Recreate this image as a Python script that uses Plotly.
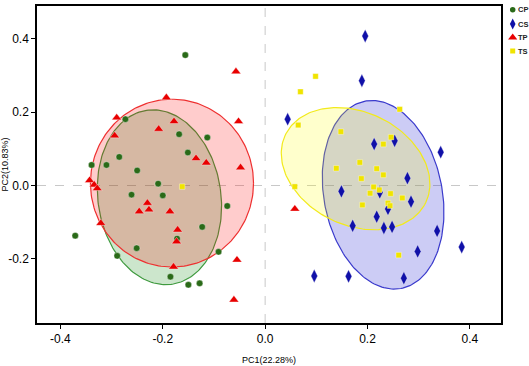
import numpy as np
import plotly.graph_objects as go

# ---- data (PC1, PC2) ----
cp_x = [-0.156, -0.273, -0.168, -0.113, -0.151, -0.285, -0.339, -0.310, -0.250, -0.209, -0.261,
        -0.200, -0.074, -0.123, -0.172, -0.371, -0.251, -0.091, -0.289, -0.185, -0.150, -0.128]
cp_y = [0.356, 0.181, 0.140, 0.131, 0.090, 0.078, 0.056, 0.056, 0.041, 0.005, -0.025,
        -0.027, -0.056, -0.113, -0.145, -0.137, -0.171, -0.181, -0.192, -0.249, -0.271, -0.267]

cs_x = [0.1955, 0.189, 0.044, 0.213, 0.253, 0.343, 0.278, 0.149, 0.224, 0.285, 0.240,
        0.218, 0.171, 0.232, 0.248, 0.336, 0.384, 0.298, 0.096, 0.163, 0.271]
cs_y = [0.408, 0.286, 0.181, 0.113, 0.122, 0.091, 0.020, -0.016, -0.019, -0.044, -0.064,
        -0.085, -0.110, -0.116, -0.113, -0.124, -0.168, -0.180, -0.247, -0.248, -0.253]

tp_x = [-0.057, -0.193, -0.290, -0.178, -0.208, -0.052, -0.294, -0.135, -0.115, -0.048, -0.343,
        -0.334, -0.328, -0.230, -0.246, -0.227, -0.186, -0.321, -0.171, -0.173, -0.055, -0.179,
        -0.061, 0.058]
tp_y = [0.311, 0.240, 0.185, 0.175, 0.154, 0.175, 0.136, 0.074, 0.062, 0.049, 0.014,
        0.002, -0.008, -0.048, -0.071, -0.066, -0.071, -0.103, -0.121, -0.153, -0.203, -0.222,
        -0.312, -0.064]

ts_x = [-0.162, 0.0985, 0.069, 0.0646, 0.263, 0.148, 0.246, 0.231, 0.139, 0.185, 0.218, 0.231,
        0.188, 0.058, 0.212, 0.223, 0.205, 0.245, 0.268, 0.190, 0.240, 0.244, 0.261]
ts_y = [-0.003, 0.298, 0.256, 0.165, 0.208, 0.147, 0.132, 0.113, 0.047, 0.063, 0.046, 0.029,
        0.019, -0.003, -0.004, -0.012, -0.021, -0.022, -0.034, -0.053, -0.048, -0.055, -0.190]

# ---- confidence ellipse parameters (centre + two conjugate semi-axis vectors) ----
ell_groups = ["CP", "CS", "TP", "TS"]
ell_cx = [-0.2065, 0.2305, -0.182, 0.1767]
ell_cy = [-0.032, -0.0254, 0.0065, 0.046]
ell_ux = [0.119, 0.1134, 0.1593, 0.1369]
ell_uy = [0.0233, 0.0308, 0.0, -0.093]
ell_vx = [-0.0242, -0.0356, 0.0, 0.0484]
ell_vy = [0.2375, 0.2555, 0.229, 0.1385]

legend_names = ["CP", "CS", "TP", "TS"]
x_ticks = [-0.4, -0.2, 0.0, 0.2, 0.4]
y_ticks = [-0.2, 0.0, 0.2, 0.4]

line_cols = {"CP": "#3f9a3f", "CS": "#3a3acc", "TP": "#ee3030", "TS": "#f2ea1c"}
fill_cols = {"CP": "rgba(0,128,0,0.2)", "CS": "rgba(0,0,205,0.2)",
             "TP": "rgba(255,0,0,0.2)", "TS": "rgba(255,255,0,0.2)"}
marker_style = {
    "CP": dict(symbol="circle", size=6.5, color="#2a6a18"),
    "CS": dict(symbol="diamond-tall", size=9.5, color="#1010a8"),
    "TP": dict(symbol="triangle-up", size=8.5, color="#e80000"),
    "TS": dict(symbol="square", size=5.5, color="#f0e400"),
}
legend_marker_size = {"CP": 5.5, "CS": 8, "TP": 8, "TS": 5}
series = {"CP": (cp_x, cp_y), "CS": (cs_x, cs_y), "TP": (tp_x, tp_y), "TS": (ts_x, ts_y)}

W, H = 529, 366
ML, MR, MT, MB = 37, 0, 6, 43
plot_right = 501
dom_end = (plot_right - ML) / (W - ML - MR)

fig = go.Figure()

t = np.linspace(0, 2 * np.pi, 200)
for i, g in enumerate(ell_groups):
    ex = ell_cx[i] + ell_ux[i] * np.cos(t) + ell_vx[i] * np.sin(t)
    ey = ell_cy[i] + ell_uy[i] * np.cos(t) + ell_vy[i] * np.sin(t)
    fig.add_trace(go.Scatter(x=ex, y=ey, mode="lines", fill="toself",
                             fillcolor=fill_cols[g],
                             line=dict(color=line_cols[g], width=1.2),
                             showlegend=False, hoverinfo="skip"))

for g in legend_names:
    xs, ys = series[g]
    fig.add_trace(go.Scatter(x=xs, y=ys, mode="markers", name=g, showlegend=False,
                             marker=dict(**marker_style[g],
                                         line=dict(color="rgba(255,255,255,0.6)", width=0.6))))

# manual legend on a small overlay axis to the right of the panel (pixel units)
leg_y = [9.7, 24, 37.5, 51]
for g, ly in zip(legend_names, leg_y):
    ms = dict(marker_style[g])
    ms["size"] = legend_marker_size[g]
    fig.add_trace(go.Scatter(x=[512.7], y=[ly], mode="markers", marker=ms,
                             xaxis="x2", yaxis="y2",
                             showlegend=False, hoverinfo="skip", cliponaxis=False))
    fig.add_annotation(x=517.3, y=ly, xref="x2", yref="y2", text="<b>" + g + "</b>",
                       showarrow=False, xanchor="left", yanchor="middle", borderpad=0,
                       font=dict(size=7.5, color="#222"))

axis_common = dict(showgrid=False, zeroline=False, showline=True, mirror=True,
                   linecolor="black", linewidth=1.5, ticks="outside", ticklen=4,
                   tickcolor="black", tickfont=dict(size=12))

fig.update_layout(
    width=W, height=H,
    margin=dict(l=ML, r=MR, t=MT, b=MB, autoexpand=False),
    paper_bgcolor="white", plot_bgcolor="white",
    font=dict(family="Liberation Sans, Arial, sans-serif", color="black"),
    showlegend=False,
    shapes=[
        dict(type="line", xref="x", yref="paper", x0=0, x1=0, y0=0, y1=1, layer="below",
             line=dict(color="#c8c8c8", width=1, dash="dash")),
        dict(type="line", xref="paper", yref="y", x0=0, x1=dom_end, y0=0, y1=0, layer="below",
             line=dict(color="#c8c8c8", width=1, dash="dash")),
    ],
    xaxis=dict(domain=[0, dom_end], range=[-0.4457, 0.4608], tickvals=x_ticks,
               ticktext=[f"{v:.1f}" for v in x_ticks],
               title=dict(text="PC1(22.28%)", font=dict(size=9), standoff=12),
               **axis_common),
    yaxis=dict(domain=[0, 1], range=[-0.3753, 0.490], tickvals=y_ticks,
               ticktext=[f"{v:.1f}" for v in y_ticks],
               title=dict(text="PC2(10.83%)", font=dict(size=9), standoff=4),
               **axis_common),
    xaxis2=dict(domain=[dom_end, 1], range=[plot_right, W], visible=False, anchor="y2",
                fixedrange=True),
    yaxis2=dict(domain=[0, 1], range=[H - MB, MT], visible=False, anchor="x2",
                fixedrange=True),
)

fig.write_html("out.html", config={"displayModeBar": False},
               post_script="document.body.style.margin='0';document.body.style.overflow='hidden';")
